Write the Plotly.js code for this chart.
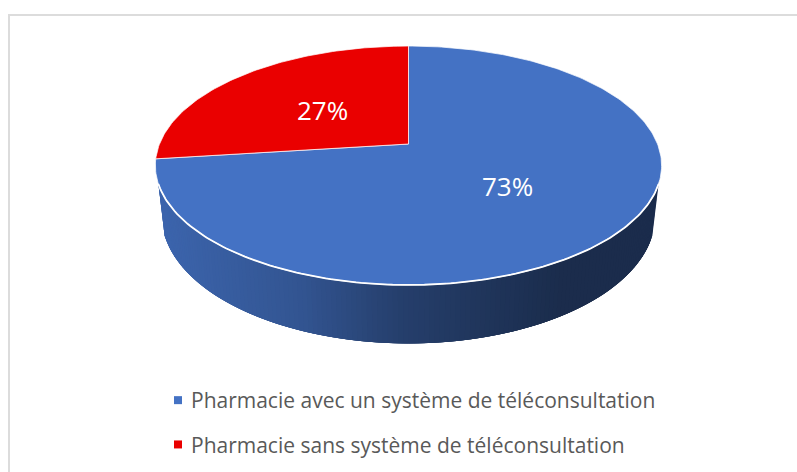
<!DOCTYPE html>
<html>
<head>
<meta charset="utf-8">
<script src="https://cdn.plot.ly/plotly-3.0.1.min.js"></script>
<style>html,body{margin:0;padding:0;background:#fff}</style>
</head>
<body>
<div id="chart" style="width:797px;height:472px"></div>
<script>
const categories = ["Pharmacie avec un système de téléconsultation", "Pharmacie sans système de téléconsultation"];
const values = [73, 27];
const sliceColors = ["#4472C4", "#EA0000"];
const sliceRGB = [[68,114,196],[234,0,0]];
const labelX = [507, 322];
const labelY = [186, 110];
const shadeX = [160, 300, 400, 500, 560, 660];
const shadeF = [0.88, 0.74, 0.55, 0.45, 0.39, 0.39];

// Projection of the tilted disc (perspective) onto the plot's pixel-sized axes
const CX = 408.5, CY = 144, A = 115.6, B = 249, K = -0.18;
const WALL_X = 0.975, WALL_Y = 1.067, WALL_D = 49;
const FRONT_FROM = 109, FRONT_TO = 251;

function topPt(t) {
  const r = t * Math.PI / 180, u = Math.sin(r), v = -Math.cos(r), d = 1 + K * v;
  return [CX + B * u / d, CY + A * v / d];
}
function bottomPt(t) {
  const p = topPt(t);
  return [CX + (p[0] - CX) * WALL_X, CY + (p[1] - CY) * WALL_Y + WALL_D];
}
function shadeAt(x) {
  let i = 0;
  while (i < shadeX.length - 2 && x > shadeX[i + 1]) i++;
  const f = Math.min(1, Math.max(0, (x - shadeX[i]) / (shadeX[i + 1] - shadeX[i])));
  return shadeF[i] + (shadeF[i + 1] - shadeF[i]) * f;
}
function steps(a, b, step) {
  const out = [];
  const n = Math.max(1, Math.ceil((b - a) / step));
  for (let i = 0; i <= n; i++) out.push(a + (b - a) * i / n);
  return out;
}

const total = values.reduce((s, v) => s + v, 0);
const traces = [];
let start = 0;
const spans = values.map(v => { const s = [start, start + v / total * 360]; start = s[1]; return s; });

// side wall: overlapping strips painted from right to left, each shaded from its horizontal position
spans.forEach((sp, idx) => {
  const a = Math.max(sp[0], FRONT_FROM), b = Math.min(sp[1], FRONT_TO);
  if (a >= b) return;
  const ts = steps(a, b, 1);
  for (let i = 0; i < ts.length - 1; i++) {
    const end = ts[Math.min(i + 4, ts.length - 1)];
    const p = [topPt(ts[i]), topPt(end), bottomPt(end), bottomPt(ts[i])];
    const f = shadeAt((topPt(ts[i])[0] + topPt(ts[i + 1])[0]) / 2);
    const c = "rgb(" + sliceRGB[idx].map(v => Math.round(v * f)).join(",") + ")";
    traces.push({
      type: "scatter", mode: "lines", x: p.map(q => q[0]).concat(p[0][0]), y: p.map(q => q[1]).concat(p[0][1]),
      fill: "toself", fillcolor: c, line: {width: 0}, showlegend: false, hoverinfo: "skip"
    });
  }
});

// top face
spans.forEach((sp, idx) => {
  const arc = steps(sp[0], sp[1], 1).map(topPt);
  traces.push({
    type: "scatter", mode: "lines",
    x: [CX].concat(arc.map(p => p[0]), CX),
    y: [CY].concat(arc.map(p => p[1]), CY),
    fill: "toself", fillcolor: sliceColors[idx],
    line: {color: "rgba(255,255,255,0.8)", width: 0.9},
    showlegend: false, hoverinfo: "skip"
  });
});

// bright rim along the front edge
const rim = steps(FRONT_FROM, FRONT_TO, 1).map(topPt);
traces.push({
  type: "scatter", mode: "lines", x: rim.map(p => p[0]), y: rim.map(p => p[1]),
  line: {color: "#ffffff", width: 1.8}, showlegend: false, hoverinfo: "skip"
});

// legend entries
categories.forEach((name, i) => traces.push({
  type: "scatter", mode: "markers", x: [null], y: [null], name: name, legendgroup: "g" + i,
  marker: {symbol: "square", size: 8, color: sliceColors[i]}, hoverinfo: "skip"
}));

const layout = {
  width: 797, height: 472, margin: {l: 0, r: 0, t: 0, b: 0},
  paper_bgcolor: "#ffffff", plot_bgcolor: "#ffffff",
  xaxis: {range: [0, 797], visible: false, fixedrange: true},
  yaxis: {range: [472, 0], visible: false, fixedrange: true},
  showlegend: true,
  legend: {
    x: 151 / 797, y: 1 - 380 / 472, xanchor: "left", yanchor: "top",
    bgcolor: "rgba(0,0,0,0)", borderwidth: 0, tracegroupgap: 14,
    font: {family: "'Open Sans', sans-serif", size: 21, color: "#595959"}
  },
  shapes: [
    {type: "line", xref: "x", yref: "y", x0: 9, x1: 797, y0: 15, y1: 15, line: {color: "#DCDCDC", width: 2}, layer: "below"},
    {type: "line", xref: "x", yref: "y", x0: 9, x1: 9, y0: 14, y1: 472, line: {color: "#DCDCDC", width: 2}, layer: "below"}
  ],
  annotations: values.map((v, i) => ({
    x: labelX[i], y: labelY[i], xref: "x", yref: "y", text: v + "%", showarrow: false,
    xanchor: "center", yanchor: "middle",
    font: {family: "'Open Sans', sans-serif", size: 26, color: "#ffffff"}
  }))
};

Plotly.newPlot("chart", traces, layout, {staticPlot: true, displayModeBar: false}).then(() => {
  document.querySelectorAll("#chart .legendsymbols").forEach(g => g.setAttribute("transform", "translate(7,0)"));
});
</script>
</body>
</html>
